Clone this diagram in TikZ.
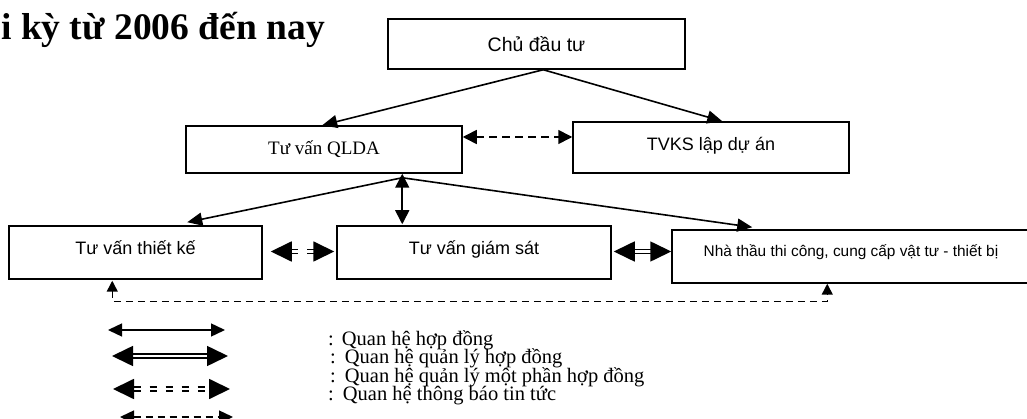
\documentclass[tikz,border=0pt]{standalone}
\usepackage{fontspec}
\setmainfont{Liberation Serif}
\setsansfont{Liberation Sans}
\usetikzlibrary{arrows.meta,calc}
\tikzset{
  box/.style={draw, line width=1.5pt, inner sep=0pt, font=\sffamily\fontsize{18}{20}\selectfont},
  conn/.style={line width=1.6pt},
  tipS/.style={-{Triangle[length=15pt,width=13pt]}},
  tipSS/.style={{Triangle[length=14pt,width=14pt]}-{Triangle[length=14pt,width=14pt]}},
  tipLL/.style={{Triangle[length=14pt,width=13pt]}-{Triangle[length=14pt,width=13pt]}},
  tipBB/.style={{Triangle[length=21pt,width=20pt]}-{Triangle[length=21pt,width=20pt]}},
  tipDD/.style={{Triangle[length=11pt,width=11pt]}-{Triangle[length=11pt,width=11pt]}},
  dbl/.style={double, double distance=2.6pt, line width=1.6pt},
  dbldash/.style={double, double distance=2.2pt, line width=1.8pt, dash pattern=on 7pt off 9pt},
  dsh/.style={line width=1.6pt, dash pattern=on 8pt off 5pt},
  legtext/.style={anchor=base west, inner sep=0pt, font=\fontsize{20.5}{22}\selectfont}
}
\begin{document}
\begin{tikzpicture}[x=1pt,y=-1pt]
\useasboundingbox (0,0) rectangle (1027,419);
\clip (0,0) rectangle (1027,419);
% heading fragment
\node[anchor=base west, inner sep=0pt, font=\bfseries\fontsize{37.5}{40}\selectfont] (head) at (1,40) {i kỳ từ 2006 đến nay};
% boxes
\node[box, minimum width=297pt, minimum height=50pt, font=\sffamily\fontsize{19.5}{22}\selectfont] (cdt) at (536.5,44) {Chủ đầu tư};
\node[box, minimum width=276pt, minimum height=47pt, font=\rmfamily\fontsize{19}{20}\selectfont] (qlda) at (324,149.5) {Tư vấn QLDA};
\node[box, minimum width=276pt, minimum height=51pt] (tvks) at (711,147.5) {\raisebox{8pt}{TVKS lập dự án}};
\node[box, minimum width=253pt, minimum height=53pt] (tk) at (135.5,252.5) {\raisebox{9pt}{Tư vấn thiết kế}};
\node[box, minimum width=274pt, minimum height=53pt] (gs) at (474,252.5) {\raisebox{9pt}{Tư vấn giám sát}};
\node[box, minimum width=358pt, minimum height=53pt, font=\sffamily\fontsize{15.4}{18}\selectfont] (nt) at (851,256.5) {\raisebox{12pt}{Nhà thầu thi công, cung cấp vật tư - thiết bị}};
% connectors
\coordinate (cdtb) at ($(cdt.south west)+(156,0)$);
\draw[conn,tipS] (cdtb) -- ($(qlda.north west)+(137,0)$);
\draw[conn,tipS] (cdtb) -- ($(tvks.north west)+(150,0)$);
\draw[dsh,tipSS] (qlda.east |- 0,137) -- (tvks.west |- 0,137);
\coordinate (apex) at ($(qlda.south west)+(217,4)$);
\draw[conn,tipSS] ($(qlda.south west)+(217,0)$) -- ($(gs.north west)+(66,-1)$);
\draw[conn,tipS] (apex) -- ($(tk.north west)+(179,-3)$);
\draw[conn,tipS] (apex) -- ($(nt.north west)+(81,-2)$);
\draw[dbldash,tipBB] ($(tk.east)+(8,-1)$) -- ($(gs.west)+(-2,-1)$);
\draw[dbl,tipBB] ($(gs.east)+(2,-1)$) -- ($(nt.west)+(0,-5)$);
\coordinate (bl) at ($(tk.south west)+(104,22)$);
\draw[line width=1.5pt, dash pattern=on 7pt off 5pt, tipDD] ($(tk.south west)+(104,1)$) -- (bl) -| ($(nt.south west)+(156,0)$);
% legend
\coordinate (l1a) at (108,330); \coordinate (l1b) at (225,330);
\coordinate (l2a) at (112,356); \coordinate (l2b) at (228,356);
\coordinate (l3a) at (113,389); \coordinate (l3b) at (230,389);
\coordinate (l4a) at (120,417); \coordinate (l4b) at (233,417);
\draw[line width=1.4pt,tipLL] (l1a) -- (l1b);
\draw[dbl,tipBB] (l2a) -- (l2b);
\draw[dbldash,tipBB] (l3a) -- (l3b);
\draw[line width=1.4pt,dash pattern=on 7pt off 5pt,tipLL] (l4a) -- (l4b);
\node[legtext] (t1) at (328,345) {:\hspace{8pt}Quan hệ hợp đồng};
\node[legtext] (t2) at (330,363.5) {:\hspace{9pt}Quan hệ quản lý hợp đồng};
\node[legtext] (t3) at (330,382) {:\hspace{9pt}Quan hệ quản lý một phần hợp đồng};
\node[legtext] (t4) at (328,400.5) {:\hspace{9pt}Quan hệ thông báo tin tức};
\end{tikzpicture}
\end{document}
